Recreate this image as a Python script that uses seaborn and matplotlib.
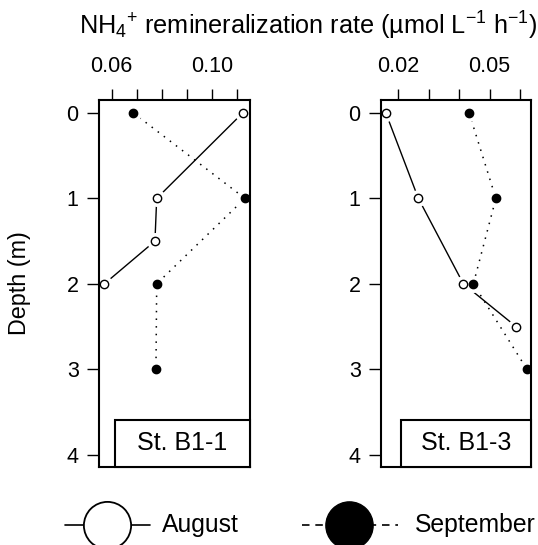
import matplotlib
matplotlib.use("Agg")
import matplotlib.pyplot as plt
from matplotlib.lines import Line2D
from matplotlib.patches import Rectangle
import numpy as np
import pandas as pd
import seaborn as sns

# Depth profiles of NH4+ remineralization rate at two stations
b11_aug_depth = [0, 1, 1.5, 2]
b11_aug_rate = [0.1124, 0.0780, 0.0773, 0.0571]
b11_sep_depth = [0, 1, 2, 3]
b11_sep_rate = [0.0687, 0.1133, 0.0780, 0.0777]

b13_aug_depth = [0, 1, 2, 2.5]
b13_aug_rate = [0.0159, 0.0266, 0.0414, 0.0587]
b13_sep_depth = [0, 1, 2, 3]
b13_sep_rate = [0.0433, 0.0521, 0.0447, 0.0623]

station_names = ["St. B1-1", "St. B1-3"]
month_names = ["August", "September"]
depth_ticks = [0, 1, 2, 3, 4]
b11_rate_ticks = [0.06, 0.07, 0.08, 0.09, 0.10, 0.11]
b11_rate_labels = ["0.06", "", "", "", "0.10", ""]
b13_rate_ticks = [0.02, 0.03, 0.04, 0.05, 0.06]
b13_rate_labels = ["0.02", "", "", "0.05", ""]

sns.set_theme(style="ticks")
plt.rcParams["font.family"] = ["Liberation Sans", "DejaVu Sans"]
plt.rcParams["mathtext.fontset"] = "custom"
plt.rcParams["mathtext.rm"] = "Liberation Sans"
plt.rcParams["mathtext.it"] = "Liberation Sans:italic"
plt.rcParams["mathtext.bf"] = "Liberation Sans:bold"

FS_TICK = 15.5
FS_TITLE = 18.2
FS_YLAB = 16.8
FS_STATION = 18.0
FS_LEGEND = 17.8
W, H = 538, 545
fig = plt.figure(figsize=(W / 100, H / 100), dpi=100)
fig.patch.set_facecolor("white")


def frame(l, b, r, t):
    return [l / W, 1 - b / H, (r - l) / W, (b - t) / H]


def profile_frame(depths, rates, month):
    return pd.DataFrame({"depth": depths, "rate": rates, "month": month})


panels = [
    dict(box=frame(99, 467, 250, 99.5), xlim=(0.05492, 0.11532),
         ticks=b11_rate_ticks, labels=b11_rate_labels, name=station_names[0],
         aug=profile_frame(b11_aug_depth, b11_aug_rate, month_names[0]),
         sep=profile_frame(b11_sep_depth, b11_sep_rate, month_names[1]),
         label_x0=0.106),
    dict(box=frame(381, 467, 531, 99.5), xlim=(0.01431, 0.06365),
         ticks=b13_rate_ticks, labels=b13_rate_labels, name=station_names[1],
         aug=profile_frame(b13_aug_depth, b13_aug_rate, month_names[0]),
         sep=profile_frame(b13_sep_depth, b13_sep_rate, month_names[1]),
         label_x0=0.133),
]

for p in panels:
    ax = fig.add_axes(p["box"])
    ax.set_facecolor("white")
    aug, sep = p["aug"], p["sep"]

    # connecting lines
    sns.lineplot(data=aug, x="rate", y="depth", sort=False, estimator=None,
                 color="black", lw=1.0, ax=ax, zorder=1)
    sns.lineplot(data=sep, x="rate", y="depth", sort=False, estimator=None,
                 color="black", lw=1.1, ax=ax, zorder=1,
                 linestyle=(0, (1, 4)))

    # white halos leave a small gap between lines and points
    both = pd.concat([aug, sep])
    sns.scatterplot(data=both, x="rate", y="depth", s=150, color="white",
                    linewidth=0, ax=ax, zorder=2, legend=False)

    sns.scatterplot(data=aug, x="rate", y="depth", s=36, color="white",
                    edgecolor="black", linewidth=1.0, ax=ax, zorder=3,
                    legend=False)
    sns.scatterplot(data=sep, x="rate", y="depth", s=36, color="black",
                    edgecolor="black", linewidth=1.0, ax=ax, zorder=4,
                    legend=False)

    ax.set_xlim(*p["xlim"])
    ax.set_ylim(4.145, -0.158)
    ax.xaxis.tick_top()
    ax.set_xticks(p["ticks"])
    ax.set_xticklabels(p["labels"])
    ax.set_yticks(depth_ticks)
    ax.set_yticklabels([str(d) for d in depth_ticks])
    ax.set_xlabel("")
    ax.set_ylabel("")
    ax.tick_params(axis="x", direction="out", length=8, width=1.0,
                   pad=8, labelsize=FS_TICK, colors="black")
    ax.tick_params(axis="y", direction="out", length=8.6, width=1.0,
                   pad=6, labelsize=FS_TICK, colors="black")
    for s in ax.spines.values():
        s.set_visible(True)
        s.set_linewidth(1.5)
        s.set_color("black")

    # station label box in the lower right corner
    ax.add_patch(Rectangle((p["label_x0"], 0), 1 - p["label_x0"], 0.128,
                           transform=ax.transAxes, facecolor="white",
                           edgecolor="black", lw=1.5, zorder=5,
                           clip_on=False))
    ax.text((p["label_x0"] + 1) / 2, 0.064, p["name"], transform=ax.transAxes,
            ha="center", va="center", fontsize=FS_STATION, zorder=6,
            color="black")

fig.text(308 / W, 1 - 35 / H,
         r"NH$_4$$^{+}$ remineralization rate (µmol L$^{-1}$ h$^{-1}$)",
         ha="center", va="baseline", fontsize=FS_TITLE, color="black")
fig.text(20 / W, 1 - 283 / H, "Depth (m)", rotation=90, ha="center",
         va="center", fontsize=FS_YLAB, color="black")

# legend along the bottom edge
ly = 1 - 525 / H
fig.add_artist(Line2D([65 / W, 106.5 / W, 150 / W], [ly, ly, ly],
                      color="black", lw=1.2, marker="o", markevery=[1],
                      markersize=34, mfc="white", mec="black", mew=1.3,
                      transform=fig.transFigure))
fig.text(162 / W, ly, month_names[0], ha="left", va="center",
         fontsize=FS_LEGEND, color="black")
fig.add_artist(Line2D([302 / W, 349 / W, 397.5 / W], [ly, ly, ly],
                      color="black", lw=1.2, linestyle=(0, (4.5, 3.5)),
                      marker="o", markevery=[1], markersize=34, mfc="black",
                      mec="black", transform=fig.transFigure))
fig.text(415 / W, ly, month_names[1], ha="left", va="center",
         fontsize=FS_LEGEND, color="black")

fig.savefig("out.png", dpi=100, facecolor="white")
